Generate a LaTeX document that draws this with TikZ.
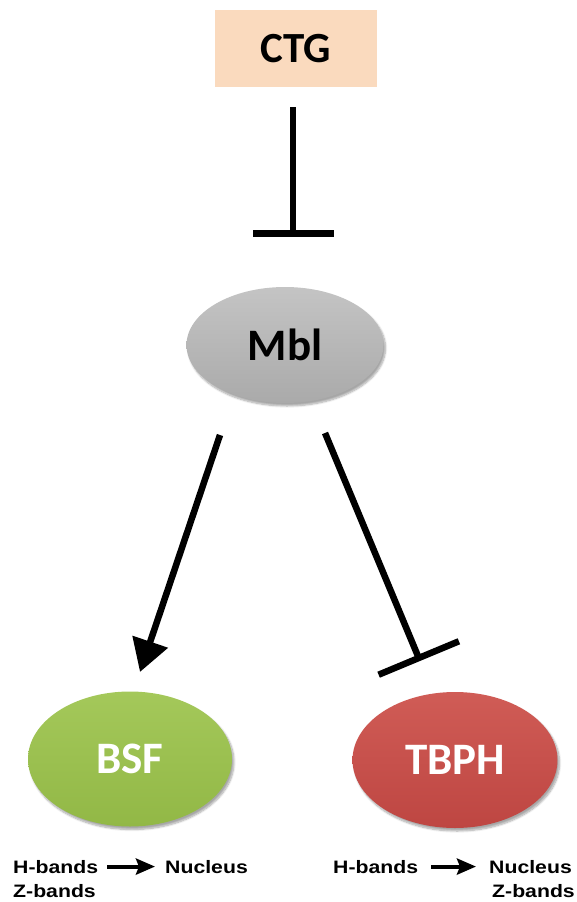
\documentclass[tikz,border=0pt]{standalone}
\usepackage{fontspec}
\setmainfont{Carlito}
\newfontfamily\labelfont{Liberation Sans}
\usetikzlibrary{arrows.meta,calc,shapes.geometric,shadows.blur}

\definecolor{ctgfill}{RGB}{250,218,190}
\definecolor{mbltop}{RGB}{196,196,196}
\definecolor{mblbot}{RGB}{170,170,170}
\definecolor{bsftop}{RGB}{164,200,90}
\definecolor{bsfbot}{RGB}{146,184,70}
\definecolor{tbtop}{RGB}{208,92,86}
\definecolor{tbbot}{RGB}{190,70,66}

\tikzset{
  bigtext/.style={font=\bfseries\fontsize{45}{50}\selectfont},
  protein/.style={ellipse, inner sep=0pt, bigtext,
    blur shadow={shadow xshift=2pt, shadow yshift=-3pt, shadow opacity=35, shadow blur steps=8}},
  inhibit/.style={line width=6.5pt},
  activate/.style={line width=6.5pt, -{Triangle[length=32pt,width=36pt]}},
  small/.style={font=\labelfont\bfseries\fontsize{18}{24}\selectfont, inner sep=0pt},
  smallarrow/.style={line width=4pt, -{Stealth[length=19pt,width=16pt,inset=3pt]}}
}

\begin{document}
\begin{tikzpicture}[x=1pt,y=-1pt]
  \useasboundingbox (0,0) rectangle (577,902);

  % regulator box
  \node[draw=none, fill=ctgfill, minimum width=162pt, minimum height=77pt,
        inner sep=0pt, font=\bfseries\fontsize{43}{48}\selectfont] (ctg) at (296,48.5) {CTG};

  % proteins
  \node[protein, minimum width=197pt, minimum height=116pt,
        top color=mbltop, bottom color=mblbot] (mbl) at (285,345) {Mbl};
  \node[protein, minimum width=204pt, minimum height=135pt, text=white,
        top color=bsftop, bottom color=bsfbot] (bsf) at (130,759) {BSF};
  \node[protein, minimum width=205pt, minimum height=136pt, text=white,
        top color=tbtop, bottom color=tbbot] (tbph) at (455,760) {TBPH};

  % CTG inhibits Mbl
  \draw[inhibit, -{Bar[width=81pt]}, shorten <=20pt, shorten >=50pt]
    ([xshift=-3pt]ctg.south) -- ([xshift=-3pt]ctg.south |- mbl.north);

  % Mbl activates BSF
  \draw[activate] ($(mbl.center)+(-65,90)$) -- ($(bsf.center)+(10,-87)$);

  % Mbl inhibits TBPH
  \draw[inhibit, -{Bar[width=87pt]}] ($(mbl.center)+(40,88)$) -- ($(tbph.center)+(-35,-99)$);

  % localisation shifts under BSF
  \node[small, anchor=base west] (hb1) at (13,873) {\scalebox{1.18}[1]{H-bands}};
  \node[small, anchor=base west] (zb1) at (13,897) {\scalebox{1.18}[1]{Z-bands}};
  \node[small, anchor=base west] (nu1) at (165,873) {\scalebox{1.18}[1]{Nucleus}};
  \draw[smallarrow, shorten <=9pt, shorten >=10pt] (hb1.east) -- (nu1.west);

  % localisation shifts under TBPH
  \node[small, anchor=base west] (hb2) at (333,873) {\scalebox{1.18}[1]{H-bands}};
  \node[small, anchor=base west] (nu2) at (489,873) {\scalebox{1.18}[1]{Nucleus}};
  \node[small, anchor=base west] (zb2) at (492,897) {\scalebox{1.18}[1]{Z-bands}};
  \draw[smallarrow, shorten <=13pt, shorten >=13pt] (hb2.east) -- (nu2.west);
\end{tikzpicture}
\end{document}
